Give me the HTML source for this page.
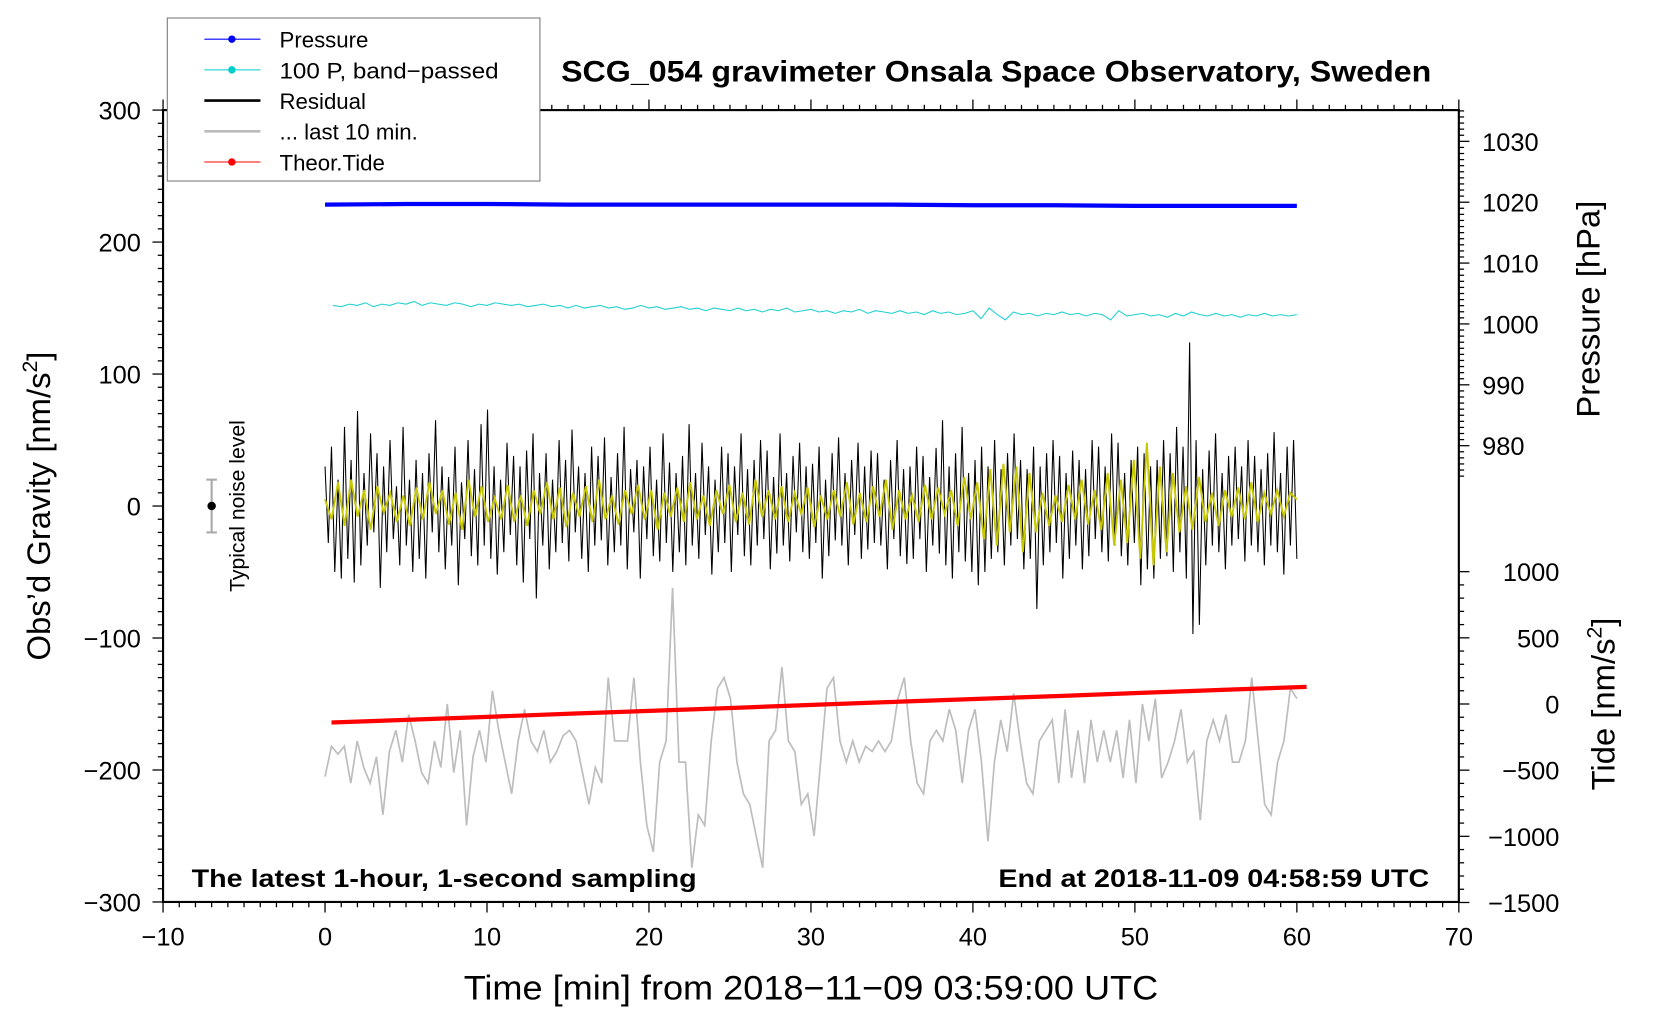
<!DOCTYPE html>
<html><head><meta charset="utf-8"><style>
html,body{margin:0;padding:0;background:#fff;}
svg{display:block;font-family:"Liberation Sans",sans-serif;}
</style></head><body>
<svg id="chart" width="1660" height="1020" viewBox="0 0 1568 963.5" xmlns="http://www.w3.org/2000/svg">
<rect width="1568" height="963.5" fill="#fff"/>
<g id="marks"></g>
<g id="axes"></g>
<text x="530" y="77" font-size="28" font-weight="bold" textLength="822" lengthAdjust="spacingAndGlyphs">SCG_054 gravimeter Onsala Space Observatory, Sweden</text>
<text x="181" y="838" font-size="24" font-weight="bold" textLength="477" lengthAdjust="spacingAndGlyphs">The latest 1-hour, 1-second sampling</text>
<text x="943" y="838" font-size="24" font-weight="bold" textLength="407" lengthAdjust="spacingAndGlyphs">End at 2018-11-09 04:58:59 UTC</text>
<text x="438" y="944" font-size="32" textLength="656" lengthAdjust="spacingAndGlyphs">Time [min] from 2018−11−09 03:59:00 UTC</text>
<text transform="translate(47,478) rotate(-90)" text-anchor="middle" font-size="31">Obs’d Gravity [nm/s<tspan dy="-12" font-size="20">2</tspan><tspan dy="12">]</tspan></text>
<text transform="translate(1511,292) rotate(-90)" text-anchor="middle" font-size="31">Pressure [hPa]</text>
<text transform="translate(1525,665) rotate(-90)" text-anchor="middle" font-size="31">Tide [nm/s<tspan dy="-12" font-size="20">2</tspan><tspan dy="12">]</tspan></text>
<text transform="translate(231,478) rotate(-90)" text-anchor="middle" font-size="20">Typical noise level</text>
<g>
<rect x="158" y="17" width="352" height="154" fill="#fff" stroke="#777" stroke-width="1"/>
<line x1="193" y1="37" x2="246" y2="37" stroke="#00f" stroke-width="1"/><circle cx="219" cy="37" r="3.5" fill="#00f"/>
<text x="264" y="45" font-size="21">Pressure</text>
<line x1="193" y1="66" x2="246" y2="66" stroke="#00cccc" stroke-width="1"/><circle cx="219" cy="66" r="3.5" fill="#00cccc"/>
<text x="264" y="74" font-size="21" textLength="207" lengthAdjust="spacingAndGlyphs">100 P, band−passed</text>
<line x1="193" y1="95" x2="246" y2="95" stroke="#000" stroke-width="2.5"/>
<text x="264" y="103" font-size="21">Residual</text>
<line x1="193" y1="124" x2="246" y2="124" stroke="#bbb" stroke-width="2.5"/>
<text x="264" y="132" font-size="21">... last 10 min.</text>
<line x1="193" y1="153" x2="246" y2="153" stroke="#f00" stroke-width="1"/><circle cx="219" cy="153" r="3.5" fill="#f00"/>
<text x="264" y="161" font-size="21">Theor.Tide</text>
</g>
</svg>
<script>
const pressureVals=[1019.6,1019.7,1019.7,1019.6,1019.6,1019.6,1019.6,1019.6,1019.5,1019.5,1019.4,1019.4,1019.4];
const tideVals=[-140,-118,-95,-72,-50,-28,-5,18,40,62,85,108,130];
const bandVals=[152,151,153,152,154,151,153,152,154,153,155,152,154,153,152,154,153,151,153,152,154,153,152,153,151,152,153,151,152,150,152,150,151,152,150,151,149,150,152,150,151,149,150,151,149,150,148,150,149,148,150,148,149,147,149,148,150,147,148,149,147,148,146,148,147,149,146,148,147,146,148,146,147,145,148,146,147,145,146,148,142,150,145,141,147,145,146,144,146,145,147,145,146,144,146,145,141,148,144,145,146,144,145,143,146,144,147,145,144,146,144,145,143,145,144,146,144,145,144,145];
const residualVals=[30,-28,45,-50,20,-55,60,-40,35,-58,72,-45,25,-30,55,-20,40,-62,30,-35,50,-25,15,-45,60,-30,20,-50,35,-40,25,-55,40,-20,65,-35,30,-48,22,-30,45,-60,18,-25,50,-38,28,-45,62,-30,73,-40,30,-52,20,-35,48,-22,38,-45,30,-58,42,-25,55,-70,25,-30,40,-48,20,-35,50,-28,35,-42,58,-20,30,-40,25,-50,45,-30,38,-26,52,-45,22,-35,40,-30,60,-48,28,-20,35,-55,30,-25,45,-38,20,-42,55,-28,33,-50,25,-35,38,-45,62,-30,25,-40,48,-22,30,-52,20,-35,45,-28,40,-50,30,-22,55,-38,28,-45,35,-30,50,-25,42,-48,22,-36,55,-30,25,-42,38,-20,48,-35,30,-40,32,-28,45,-55,20,-38,40,-26,52,-30,25,-45,35,-22,48,-40,30,-33,42,-28,40,-30,20,-48,35,-25,50,-38,28,-44,30,-40,45,-25,38,-50,22,-30,44,-36,65,-45,30,-55,40,-35,60,-42,25,-50,35,-60,45,-50,30,-40,50,-35,28,-45,40,-30,55,-25,35,-48,28,-40,45,-78,30,-45,40,-35,50,-28,38,-55,25,-40,42,-30,35,-48,28,-38,50,-25,45,-35,30,-42,55,-30,48,-38,25,-45,35,-28,45,-60,40,-48,30,-55,35,-40,50,-38,40,-50,60,-35,45,-55,124,-97,50,-90,28,-45,42,-30,55,-35,25,-48,38,-30,45,-25,30,-42,50,-30,38,-35,28,-45,40,-30,56,-35,25,-52,45,-30,50,-40];
const filteredVals=[5,-10,18,-15,20,-8,12,-18,15,-5,10,-12,8,-15,14,-10,18,-6,12,-14,10,-18,20,-8,15,-12,6,-10,16,-12,8,-15,12,-6,18,-10,14,-16,10,-8,15,-12,20,-10,8,-14,12,-6,16,-10,12,-18,10,-8,14,-12,18,-10,8,-15,12,-6,16,-12,10,-14,20,-8,12,-10,15,-12,10,-6,14,-16,8,-10,12,-8,18,-14,10,-12,15,-8,20,-18,12,-10,8,-12,16,-10,14,-6,12,-15,22,-10,18,-25,28,-30,32,-20,30,-35,25,-20,10,-15,8,-12,16,-10,20,-14,12,-18,25,-30,20,-28,35,-40,48,-45,30,-35,25,-20,15,-18,22,-12,10,-15,12,-8,14,-10,18,-12,10,-6,12,-8,10,5];
const lastVals=[-205,-182,-188,-182,-210,-178,-198,-210,-190,-234,-186,-170,-194,-158,-178,-202,-210,-178,-198,-150,-202,-170,-242,-190,-170,-194,-140,-170,-194,-218,-178,-154,-178,-186,-170,-194,-186,-174,-170,-178,-202,-226,-198,-210,-130,-178,-178,-178,-130,-194,-242,-262,-194,-178,-62,-194,-194,-274,-234,-242,-178,-138,-130,-146,-194,-218,-226,-250,-274,-178,-170,-122,-178,-186,-226,-218,-250,-194,-138,-130,-178,-194,-178,-194,-182,-186,-178,-186,-178,-146,-130,-178,-210,-218,-178,-170,-178,-154,-170,-210,-170,-154,-194,-254,-194,-162,-186,-142,-178,-210,-218,-178,-170,-162,-210,-154,-206,-170,-210,-162,-194,-170,-194,-170,-206,-162,-210,-150,-178,-146,-206,-194,-178,-154,-194,-186,-238,-178,-162,-178,-158,-194,-194,-178,-130,-178,-226,-234,-194,-178,-138,-146];
const xTicks=[-10,0,10,20,30,40,50,60,70];
const yTicks=[300,200,100,0,-100,-200,-300];
const pTicks=[1030,1020,1010,1000,990,980];
const tideTicks=[1000,500,0,-500,-1000,-1500];

const NS="http://www.w3.org/2000/svg";
const X=t=>154+(t+10)*15.3;
const Y=g=>478-g*1.2467;
const YP=p=>191-(p-1020)*5.75;
const YT=v=>665-v*0.125;
const marks=document.getElementById('marks'), axes=document.getElementById('axes');
function mk(tag,attrs,parent){const e=document.createElementNS(NS,tag);for(const k in attrs)e.setAttribute(k,attrs[k]);parent.appendChild(e);return e;}
function series(vals,t0,t1,ys){const n=vals.length;return vals.map((v,i)=>X(t0+(t1-t0)*i/(n-1)).toFixed(1)+','+ys(v).toFixed(1)).join(' ');}

let e;
e=mk('polyline',{points:series(lastVals,0,60,Y),fill:'none',stroke:'#bdbdbd','stroke-width':1.6},marks);


e=mk('polyline',{points:series(residualVals,0,60,Y),fill:'none',stroke:'#000','stroke-width':1},marks);


e=mk('polyline',{points:series(filteredVals,0,60,Y),fill:'none',stroke:'#c8c800','stroke-width':1.8},marks);


e=mk('polyline',{points:series(bandVals,0.5,60,Y),fill:'none',stroke:'#20d0d0','stroke-width':1},marks);


e=mk('polyline',{points:series(pressureVals,0,60,YP),fill:'none',stroke:'#0000ff','stroke-width':4},marks);


e=mk('polyline',{points:series(tideVals,0.4,60.6,YT),fill:'none',stroke:'#ff0000','stroke-width':4},marks);


e=mk('g',{},marks);


mk('line',{x1:X(-7),x2:X(-7),y1:Y(20),y2:Y(-20),stroke:'#aaa','stroke-width':2},e);
mk('line',{x1:X(-7)-5,x2:X(-7)+5,y1:Y(20),y2:Y(20),stroke:'#aaa','stroke-width':2},e);
mk('line',{x1:X(-7)-5,x2:X(-7)+5,y1:Y(-20),y2:Y(-20),stroke:'#aaa','stroke-width':2},e);
mk('circle',{cx:X(-7),cy:Y(0),r:4,fill:'#000'},e);

e=mk('rect',{x:154,y:104,width:1224,height:748,fill:'none',stroke:'#000','stroke-width':2},axes);


for(let t=-10;t<=70;t++){const maj=t%10===0;const x=X(t);
 mk('line',{x1:x,x2:x,y1:852,y2:852+(maj?10:5),stroke:'#000','stroke-width':1.2},axes);
 mk('line',{x1:x,x2:x,y1:104,y2:104-(maj?10:5),stroke:'#000','stroke-width':1.2},axes);}
xTicks.forEach(t=>{e=mk('text',{x:X(t),y:893,'text-anchor':'middle','font-size':24},axes);e.textContent=t<0?'−'+Math.abs(t):t;

});
for(let g=-300;g<=300;g+=10){const maj=g%100===0;mk('line',{x1:154,x2:154-(maj?10:5),y1:Y(g),y2:Y(g),stroke:'#000','stroke-width':1.2},axes);}
yTicks.forEach(g=>{e=mk('text',{x:133,y:Y(g)+9,'text-anchor':'end','font-size':24},axes);e.textContent=g<0?'−'+Math.abs(g):g;

});
for(let p=975;p<=1035;p++){const maj=p%10===0;mk('line',{x1:1378,x2:1378+(maj?10:5),y1:YP(p),y2:YP(p),stroke:'#000','stroke-width':1.2},axes);}
pTicks.forEach(p=>{e=mk('text',{x:1400,y:YP(p)+9,'font-size':24},axes);e.textContent=p;

});
for(let v=-1500;v<=1000;v+=100){const maj=v%500===0;mk('line',{x1:1378,x2:1378+(maj?10:5),y1:YT(v),y2:YT(v),stroke:'#000','stroke-width':1.2},axes);}
tideTicks.forEach(v=>{e=mk('text',{x:1473,y:YT(v)+9,'text-anchor':'end','font-size':24},axes);e.textContent=v<0?'−'+Math.abs(v):v;

});
</script>
</body></html>
